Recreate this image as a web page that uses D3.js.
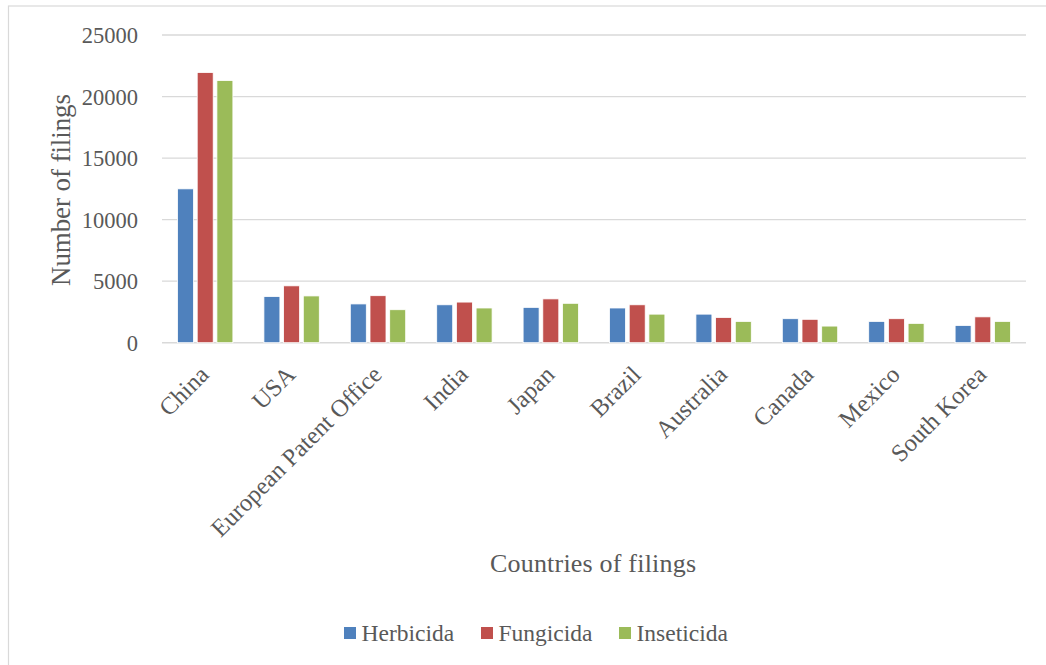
<!DOCTYPE html>
<html>
<head>
<meta charset="utf-8">
<script src="https://cdn.jsdelivr.net/npm/d3@7"></script>
<style>
  html, body { margin: 0; padding: 0; background: #fff; }
  svg { display: block; }
  text { font-family: "Liberation Serif", "Times New Roman", serif; fill: #595959; }
</style>
</head>
<body>
<svg id="chart" width="1046" height="665"></svg>
<script>
const categories = ["China", "USA", "European Patent Office", "India", "Japan", "Brazil", "Australia", "Canada", "Mexico", "South Korea"];
const seriesNames = ["Herbicida", "Fungicida", "Inseticida"];
const herbicida = [12500, 3750, 3150, 3080, 2870, 2820, 2320, 1950, 1730, 1400];
const fungicida = [21950, 4620, 3820, 3300, 3560, 3080, 2050, 1900, 1950, 2100];
const inseticida = [21300, 3800, 2680, 2820, 3200, 2320, 1730, 1350, 1570, 1730];
const yTicks = [0, 5000, 10000, 15000, 20000, 25000];
const colors = ["#4F81BD", "#C0504D", "#9BBB59"];

(function () {
const seriesValues = [herbicida, fungicida, inseticida];
const svg = d3.select("#chart");

// frame
svg.append("rect").attr("x", 8.5).attr("y", 6).attr("width", 1200).attr("height", 800)
  .attr("fill", "none").attr("stroke", "#d9d9d9").attr("stroke-width", 1.2);

const pLeft = 162, pRight = 1026, pTop = 35, pBottom = 342.7;

const x0 = d3.scaleBand().domain(categories).range([pLeft, pRight])
  .paddingInner(0.359).paddingOuter(0.1795);
const x1 = d3.scaleBand().domain(seriesNames).range([0, x0.bandwidth()]).paddingInner(0.188);
const y = d3.scaleLinear().domain([0, 25000]).range([pBottom, pTop]);

// gridlines
svg.append("g").selectAll("line").data(yTicks).join("line")
  .attr("x1", pLeft).attr("x2", pRight)
  .attr("y1", d => y(d)).attr("y2", d => y(d))
  .attr("stroke", "#d9d9d9").attr("stroke-width", d => d === 0 ? 1.6 : 1.3);

// y tick labels
const yAxis = d3.axisLeft(y).tickValues(yTicks).tickSize(0).tickPadding(0).tickFormat(d3.format("d"));
const yg = svg.append("g").attr("transform", `translate(138,0)`).call(yAxis);
yg.select(".domain").remove();
yg.selectAll("text").attr("font-size", 22.5).attr("fill", "#595959")
  .attr("font-family", "Liberation Serif, Times New Roman, serif").attr("dy", "0.34em");

// bars
const groups = svg.append("g").selectAll("g").data(categories).join("g")
  .attr("transform", d => `translate(${x0(d)},0)`);
groups.selectAll("rect").data((c, i) => seriesNames.map((s, k) => ({ s, v: seriesValues[k][i], k })))
  .join("rect")
  .attr("x", d => x1(d.s)).attr("width", x1.bandwidth())
  .attr("y", d => y(d.v)).attr("height", d => pBottom - y(d.v))
  .attr("fill", d => colors[d.k]).attr("stroke", "#ffffff").attr("stroke-width", 0.8);

// x labels rotated
svg.append("g").selectAll("text").data(categories).join("text")
  .attr("transform", d => `translate(${x0(d) + x0.bandwidth() / 2 - 1},370) rotate(-45)`)
  .attr("text-anchor", "end").attr("dy", "0.35em")
  .attr("font-size", 24.5).text(d => d);

// axis titles
svg.append("text").attr("x", 593).attr("y", 572).attr("text-anchor", "middle")
  .attr("font-size", 26).attr("textLength", 206).attr("lengthAdjust", "spacing")
  .text("Countries of filings");
svg.append("text").attr("transform", "translate(70,190) rotate(-90)").attr("text-anchor", "middle")
  .attr("font-size", 27).attr("textLength", 192).attr("lengthAdjust", "spacing")
  .text("Number of filings");

// legend
const legendX = [344, 481, 619];
const lg = svg.append("g").selectAll("g").data(seriesNames).join("g")
  .attr("transform", (d, i) => `translate(${legendX[i]},627)`);
lg.append("rect").attr("width", 12).attr("height", 12).attr("fill", (d, i) => colors[i]);
lg.append("text").attr("x", 17.5).attr("y", 13.7).attr("font-size", 23.5).text(d => d);
})();
</script>
</body>
</html>
